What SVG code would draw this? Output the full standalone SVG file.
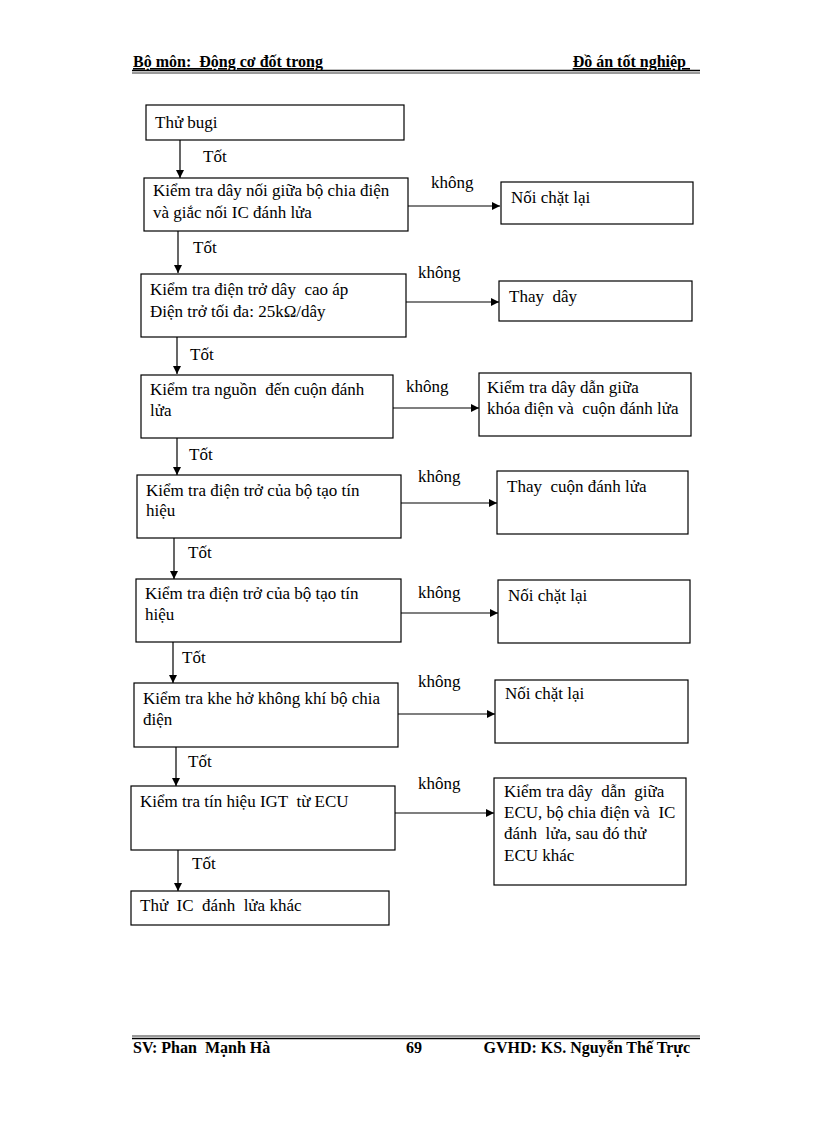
<svg xmlns="http://www.w3.org/2000/svg" width="816" height="1123" viewBox="0 0 816 1123" xml:space="preserve">
<style>
text{font-family:"Liberation Serif","Times New Roman",serif;font-size:17px;fill:#000;white-space:pre}
.hd{font-size:16px;font-weight:bold}
.ft{font-size:16px;font-weight:bold}
.box{fill:#fff;stroke:#000;stroke-width:1.2}
.con line{stroke:#000;stroke-width:1.2}
</style>
<defs>
<marker id="ah" markerUnits="userSpaceOnUse" markerWidth="8" markerHeight="8" viewBox="0 0 8 8" refX="8" refY="4" orient="auto">
<path d="M0,0 L8,4 L0,8 z" fill="#000"/>
</marker>
</defs>
<rect width="816" height="1123" fill="#fff"/>
<g id="header">
<text class="hd" x="133" y="67" text-decoration="underline">Bộ môn:  Động cơ đốt trong</text>
<text class="hd" x="690" y="67" text-anchor="end" text-decoration="underline">Đồ án tốt nghiệp </text>
<line x1="132" y1="70.5" x2="700" y2="70.5" stroke="#000" stroke-width="1.6"/>
<line x1="132" y1="73" x2="700" y2="73" stroke="#000" stroke-width="0.8"/>
</g>
<g id="footer">
<line x1="132" y1="1036" x2="700" y2="1036" stroke="#000" stroke-width="0.8"/>
<line x1="132" y1="1038.5" x2="700" y2="1038.5" stroke="#000" stroke-width="1.6"/>
<text class="ft" x="133" y="1053">SV: Phan  Mạnh Hà</text>
<text class="ft" x="406" y="1053">69</text>
<text class="ft" x="690" y="1053" text-anchor="end">GVHD: KS. Nguyễn Thế Trực</text>
</g>
<g id="connectors" class="con">
<line x1="180" y1="140" x2="180" y2="178" marker-end="url(#ah)"/>
<line x1="178" y1="231" x2="178" y2="273" marker-end="url(#ah)"/>
<line x1="177" y1="337" x2="177" y2="374" marker-end="url(#ah)"/>
<line x1="177" y1="438" x2="177" y2="475" marker-end="url(#ah)"/>
<line x1="174" y1="538" x2="174" y2="579" marker-end="url(#ah)"/>
<line x1="173" y1="642" x2="173" y2="683" marker-end="url(#ah)"/>
<line x1="176" y1="747" x2="176" y2="786" marker-end="url(#ah)"/>
<line x1="178" y1="850" x2="178" y2="891" marker-end="url(#ah)"/>
<line x1="408" y1="206" x2="500" y2="206" marker-end="url(#ah)"/>
<line x1="406" y1="302" x2="499" y2="302" marker-end="url(#ah)"/>
<line x1="393" y1="408" x2="479" y2="408" marker-end="url(#ah)"/>
<line x1="401" y1="503" x2="497" y2="503" marker-end="url(#ah)"/>
<line x1="401" y1="613" x2="498" y2="613" marker-end="url(#ah)"/>
<line x1="398" y1="714" x2="495" y2="714" marker-end="url(#ah)"/>
<line x1="395" y1="813" x2="494" y2="813" marker-end="url(#ah)"/>
<text x="203" y="162">Tốt</text>
<text x="193" y="253">Tốt</text>
<text x="190" y="360">Tốt</text>
<text x="189" y="460">Tốt</text>
<text x="188" y="558">Tốt</text>
<text x="182" y="663">Tốt</text>
<text x="188" y="767">Tốt</text>
<text x="192" y="869">Tốt</text>
<text x="431" y="188">không</text>
<text x="418" y="278">không</text>
<text x="406" y="392">không</text>
<text x="418" y="482">không</text>
<text x="418" y="598">không</text>
<text x="418" y="687">không</text>
<text x="418" y="789">không</text>
</g>
<g id="n1"><rect class="box" x="146" y="105" width="258" height="35"/><text x="155" y="128">Thử bugi</text></g>
<g id="n2"><rect class="box" x="144" y="178" width="264" height="53"/><text x="153" y="196">Kiểm tra dây nối giữa bộ chia điện</text><text x="153" y="218">và giắc nối IC đánh lửa</text></g>
<g id="r1"><rect class="box" x="501" y="182" width="192" height="42"/><text x="511" y="203">Nối chặt lại</text></g>
<g id="n3"><rect class="box" x="141" y="274" width="265" height="63"/><text x="150" y="295">Kiểm tra điện trở dây  cao áp</text><text x="150" y="317">Điện trở tối đa: 25kΩ/dây</text></g>
<g id="r2"><rect class="box" x="499" y="281" width="193" height="40"/><text x="509" y="302">Thay  dây</text></g>
<g id="n4"><rect class="box" x="141" y="375" width="252" height="63"/><text x="150" y="395">Kiểm tra nguồn  đến cuộn đánh</text><text x="150" y="416">lửa</text></g>
<g id="r3"><rect class="box" x="479" y="373" width="212" height="63"/><text x="487" y="393">Kiểm tra dây dẫn giữa</text><text x="487" y="414">khóa điện và  cuộn đánh lửa</text></g>
<g id="n5"><rect class="box" x="137" y="475" width="264" height="63"/><text x="146" y="496">Kiểm tra điện trở của bộ tạo tín</text><text x="146" y="516">hiệu</text></g>
<g id="r4"><rect class="box" x="497" y="471" width="191" height="63"/><text x="507" y="492">Thay  cuộn đánh lửa</text></g>
<g id="n6"><rect class="box" x="136" y="579" width="265" height="63"/><text x="145" y="599">Kiểm tra điện trở của bộ tạo tín</text><text x="145" y="620">hiệu</text></g>
<g id="r5"><rect class="box" x="498" y="580" width="192" height="63"/><text x="508" y="601">Nối chặt lại</text></g>
<g id="n7"><rect class="box" x="134" y="683" width="264" height="64"/><text x="143" y="704">Kiểm tra khe hở không khí bộ chia</text><text x="143" y="725">điện</text></g>
<g id="r6"><rect class="box" x="495" y="680" width="193" height="63"/><text x="505" y="699">Nối chặt lại</text></g>
<g id="n8"><rect class="box" x="131" y="786" width="264" height="64"/><text x="140" y="807">Kiểm tra tín hiệu IGT  từ ECU</text></g>
<g id="r7"><rect class="box" x="494" y="778" width="192" height="107"/><text x="504" y="797">Kiểm tra dây  dẫn  giữa</text><text x="504" y="818">ECU, bộ chia điện và  IC</text><text x="504" y="839">đánh  lửa, sau đó thử</text><text x="504" y="861">ECU khác</text></g>
<g id="n9"><rect class="box" x="131" y="891" width="258" height="34"/><text x="140" y="911">Thử  IC  đánh  lửa khác</text></g>
</svg>
